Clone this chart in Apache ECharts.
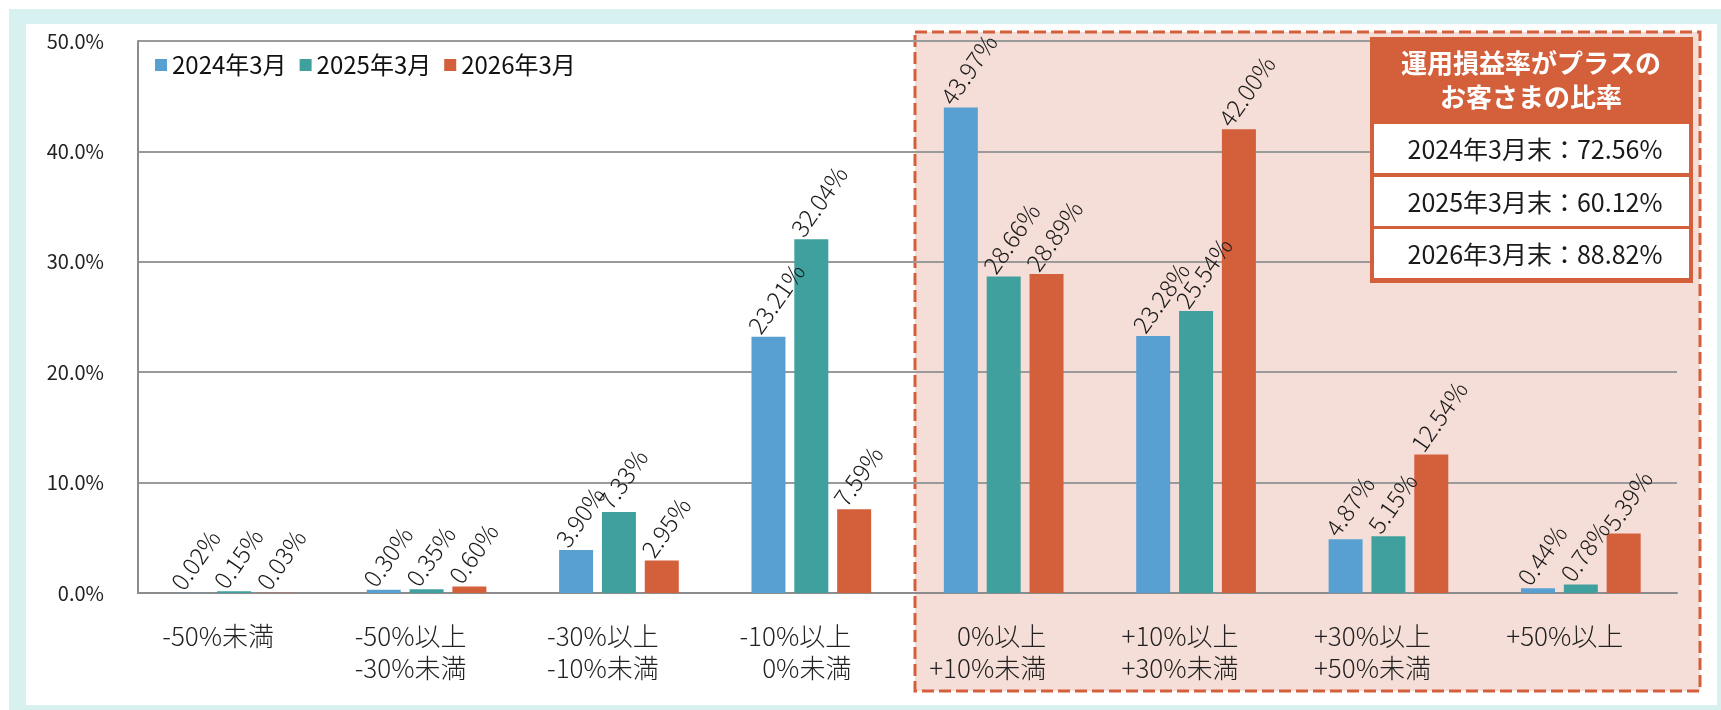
<!DOCTYPE html>
<html>
<head>
<meta charset="utf-8">
<style>
  html, body { margin: 0; padding: 0; background: #fff; }
  #main { width: 1721px; height: 710px; }
</style>
<script src="https://cdn.jsdelivr.net/npm/echarts/dist/echarts.min.js"></script>
</head>
<body>
<div id="main"></div>
<script>
// データ
const categories = ["-50%未満", "-50%以上\n-30%未満", "-30%以上\n-10%未満", "-10%以上\n0%未満", "0%以上\n+10%未満", "+10%以上\n+30%未満", "+30%以上\n+50%未満", "+50%以上"];
const seriesNames = ["2024年3月", "2025年3月", "2026年3月"];
const values2024 = [0.02, 0.30, 3.90, 23.21, 43.97, 23.28, 4.87, 0.44];
const values2025 = [0.15, 0.35, 7.33, 32.04, 28.66, 25.54, 5.15, 0.78];
const values2026 = [0.03, 0.60, 2.95, 7.59, 28.89, 42.00, 12.54, 5.39];
const yTicks = [0, 10, 20, 30, 40, 50];
const boxTitle = "運用損益率がプラスの\nお客さまの比率";
const boxRows = ["2024年3月末：72.56%", "2025年3月末：60.12%", "2026年3月末：88.82%"];

const FONT = '"Noto Sans CJK JP", "Noto Sans", sans-serif';
const colors = ["#59a0d2", "#40a09d", "#d35f3b"];

// 2行ラベルの短い方を右寄せにする
const CAT_SIZE = 26;
const ctx = document.createElement("canvas").getContext("2d");
ctx.font = "300 " + CAT_SIZE + "px " + FONT;
const catRich = {};
const catText = categories.map((c, ci) => {
  const lines = c.split("\n");
  const ws = lines.map(s => ctx.measureText(s).width);
  const m = Math.max(...ws);
  return lines.map((s, li) => {
    const key = "c" + ci + "_" + li;
    catRich[key] = {
      fontSize: CAT_SIZE, fontFamily: FONT, fontWeight: 300, color: "#222", lineHeight: 32,
      padding: [0, 0, 0, Math.round(m - ws[li])]
    };
    return "{" + key + "|" + s + "}";
  }).join("\n");
});

function barSeries(name, data, color) {
  return {
    name: name,
    type: "bar",
    data: data,
    barWidth: 34,
    barGap: "26%",
    itemStyle: { color: color },
    label: {
      show: true,
      position: [12, 1],
      rotate: 55,
      align: "left",
      verticalAlign: "bottom",
      fontSize: 24,
      fontWeight: 300,
      fontFamily: FONT,
      color: "#1a1a1a",
      formatter: p => p.value.toFixed(2) + "%"
    }
  };
}

let myChart = echarts.init(document.getElementById("main"));
let option = {
  animation: false,
  textStyle: { fontFamily: FONT },
  grid: { left: 138, right: 44, top: 41, bottom: 117 },
  legend: {
    left: 150, top: 48,
    icon: "rect",
    itemWidth: 12, itemHeight: 12, itemGap: 13,
    selectedMode: false,
    textStyle: { fontSize: 24, fontFamily: FONT, color: "#111" },
    data: seriesNames
  },
  xAxis: {
    type: "category",
    data: categories,
    axisLine: { show: true, lineStyle: { color: "#8c8c8c", width: 2 } },
    axisTick: { show: false },
    axisLabel: {
      interval: 0,
      margin: 27,
      padding: [0, 32, 0, 0],
      formatter: (v, i) => catText[i],
      rich: catRich
    }
  },
  yAxis: {
    type: "value",
    min: yTicks[0],
    max: yTicks[yTicks.length - 1],
    interval: yTicks[1] - yTicks[0],
    axisLine: { show: true, lineStyle: { color: "#8c8c8c", width: 2 } },
    axisTick: { show: false },
    splitLine: { lineStyle: { color: "#9a9a9a", width: 2 } },
    axisLabel: {
      margin: 34,
      fontSize: 20,
      fontFamily: FONT,
      color: "#222",
      formatter: v => v.toFixed(1) + "%"
    }
  },
  graphic: [
    { type: "rect", z: -10, silent: true, shape: { x: 9, y: 9, width: 1712, height: 701 }, style: { fill: "#d7f0f0" } },
    { type: "rect", z: -9, silent: true, shape: { x: 26, y: 24, width: 1691, height: 681 }, style: { fill: "#fff" } },
    { type: "rect", z: -8, silent: true, shape: { x: 915, y: 32, width: 785, height: 659 },
      style: { fill: "#f6ded8", stroke: "#d45f3b", lineWidth: 3, lineDash: [12, 5] } },
    { type: "rect", z: 50, silent: true, shape: { x: 1370, y: 37, width: 323, height: 246 }, style: { fill: "#d35f3b" } },
    { type: "rect", z: 51, silent: true, shape: { x: 1374, y: 124, width: 315, height: 49 }, style: { fill: "#fff" } },
    { type: "rect", z: 51, silent: true, shape: { x: 1374, y: 177, width: 315, height: 49 }, style: { fill: "#fff" } },
    { type: "rect", z: 51, silent: true, shape: { x: 1374, y: 229, width: 315, height: 49 }, style: { fill: "#fff" } },
    { type: "text", z: 52, silent: true, x: 1531, y: 80,
      style: { text: boxTitle, fill: "#fff", font: "bold 26px " + FONT, lineHeight: 34, align: "center", verticalAlign: "middle" } },
    { type: "text", z: 52, silent: true, x: 1535, y: 149,
      style: { text: boxRows[0], fill: "#1a1a1a", font: "25px " + FONT, align: "center", verticalAlign: "middle" } },
    { type: "text", z: 52, silent: true, x: 1535, y: 202,
      style: { text: boxRows[1], fill: "#1a1a1a", font: "25px " + FONT, align: "center", verticalAlign: "middle" } },
    { type: "text", z: 52, silent: true, x: 1535, y: 254,
      style: { text: boxRows[2], fill: "#1a1a1a", font: "25px " + FONT, align: "center", verticalAlign: "middle" } }
  ],
  series: [
    barSeries(seriesNames[0], values2024, colors[0]),
    barSeries(seriesNames[1], values2025, colors[1]),
    barSeries(seriesNames[2], values2026, colors[2])
  ]
};
myChart.setOption(option, true);
</script>
</body>
</html>
